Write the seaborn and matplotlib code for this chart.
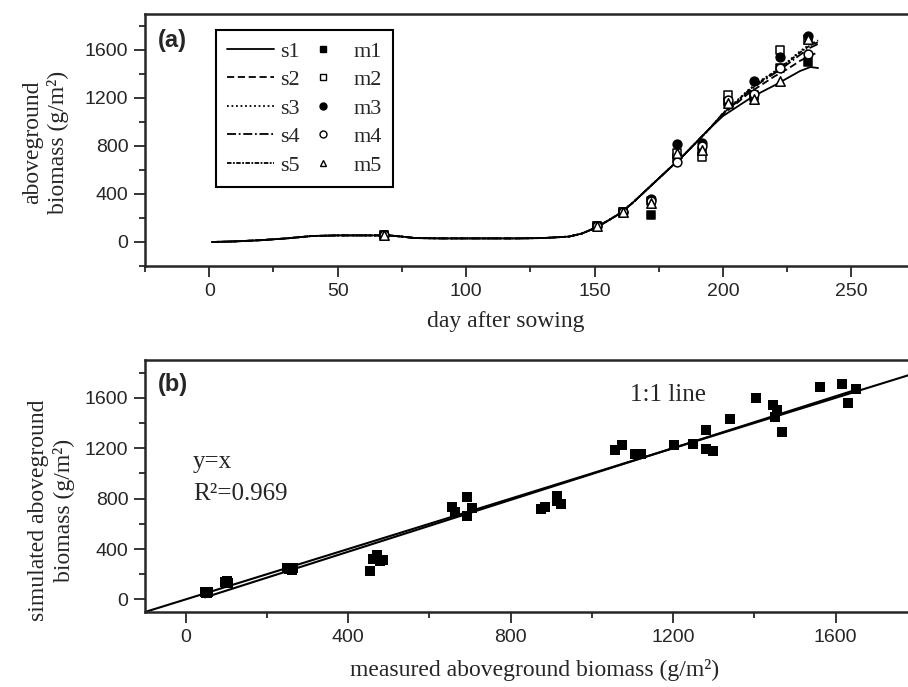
import numpy as np
import pandas as pd
import matplotlib
matplotlib.use("Agg")
import matplotlib.pyplot as plt
import seaborn as sns
from matplotlib.ticker import MultipleLocator
from matplotlib.lines import Line2D

# simulated aboveground biomass (g/m2), runs s1..s5
sim_day = [1, 10, 20, 30, 40, 50, 60, 70, 75, 80, 90, 100, 110, 120, 130, 140, 145,
           150, 155, 160, 165, 170, 175, 180, 185, 190, 195,
           200, 205, 210, 215, 220, 225, 230, 234, 237]
early = [0, 5, 15, 30, 50, 55, 55, 55, 45, 33, 30, 30, 30, 30, 33, 45, 70,
         115, 175, 240, 330, 430, 530, 630, 730, 840, 950]
s1 = early + [1050, 1120, 1190, 1250, 1305, 1365, 1425, 1458, 1450]
s2 = early + [1065, 1150, 1240, 1310, 1380, 1440, 1510, 1555, 1580]
s3 = early + [1075, 1170, 1270, 1350, 1420, 1500, 1590, 1650, 1680]
s4 = early + [1070, 1160, 1255, 1335, 1405, 1480, 1560, 1620, 1650]
s5 = early + [1072, 1165, 1265, 1345, 1415, 1495, 1580, 1640, 1665]

# measured aboveground biomass, sets m1..m5
meas_day = [68, 151, 161, 172, 182, 192, 202, 212, 222, 233]
m1 = [60, 130, 250, 222, 700, 760, 1170, 1210, 1450, 1500]
m2 = [60, 135, 250, 340, 740, 711, 1225, 1225, 1600, 1690]
m3 = [60, 130, 250, 360, 815, 822, 1160, 1342, 1544, 1717]
m4 = [60, 130, 250, 345, 664, 800, 1180, 1230, 1447, 1564]
m5 = [60, 130, 250, 322, 739, 767, 1160, 1192, 1344, 1692]

# panel (b): measured vs simulated
meas_b = [48, 50, 52, 55, 50, 98, 100, 103, 105, 102, 250, 255, 258, 262, 265,
          455, 462, 472, 478, 485, 655, 663, 692, 693, 704,
          874, 884, 913, 915, 925, 1058, 1073, 1106, 1120,
          1202, 1248, 1281, 1282, 1297, 1340, 1405, 1445, 1455, 1451, 1467,
          1561, 1615, 1649, 1631]
sim_b = [55, 60, 50, 62, 48, 140, 130, 145, 128, 135, 250, 245, 240, 235, 250,
         225, 320, 350, 305, 315, 730, 690, 810, 660, 725,
         717, 730, 818, 783, 757, 1182, 1222, 1156, 1150,
         1222, 1235, 1341, 1195, 1177, 1429, 1602, 1541, 1501, 1448, 1328,
         1687, 1708, 1673, 1559]

sim_runs = {"s1": s1, "s2": s2, "s3": s3, "s4": s4, "s5": s5}
meas_sets = {"m1": m1, "m2": m2, "m3": m3, "m4": m4, "m5": m5}

sns.set_style("ticks")
plt.rcParams["font.family"] = ["Liberation Sans", "DejaVu Sans"]
serif = ["Liberation Serif", "DejaVu Serif"]

line_dash = {"s1": "", "s2": (4, 2), "s3": (1, 1.5), "s4": (5, 1.5, 1, 1.5), "s5": (2.5, 0.8, 1, 0.8)}
line_style = {"s1": "-", "s2": (0, (4, 2)), "s3": (0, (1, 1.5)),
              "s4": (0, (5, 1.5, 1, 1.5)), "s5": (0, (2.5, 0.8, 1, 0.8))}
mark = {"m1": ("s", "black"), "m2": ("s", "white"), "m3": ("o", "black"),
        "m4": ("o", "white"), "m5": ("^", "white")}

sim_df = pd.DataFrame([(d, v, k) for k, vals in sim_runs.items() for d, v in zip(sim_day, vals)],
                      columns=["day", "biomass", "run"])

fig = plt.figure(figsize=(9.08, 6.87), dpi=100)
W, H = 908, 687
ax1 = fig.add_axes([145 / W, 1 - 266 / H, 763 / W, 252 / H])
ax2 = fig.add_axes([145 / W, 1 - 612 / H, 763 / W, 252 / H])

# panel (a)
sns.lineplot(data=sim_df, x="day", y="biomass", style="run", dashes=line_dash,
             color="black", lw=1.3, legend=False, estimator=None, ax=ax1)
for k, vals in meas_sets.items():
    mk, fc = mark[k]
    sns.scatterplot(x=meas_day, y=vals, marker=mk, color=fc, edgecolor="black",
                    s=40 if mk != "^" else 46, linewidth=1.1, zorder=5, ax=ax1)

ax1.set_xlim(-25, 272)
ax1.set_ylim(-200, 1900)
ax1.xaxis.set_major_locator(MultipleLocator(50))
ax1.xaxis.set_minor_locator(MultipleLocator(25))
ax1.yaxis.set_major_locator(MultipleLocator(400))
ax1.yaxis.set_minor_locator(MultipleLocator(200))
ax1.set_xlabel("day after sowing", family=serif, fontsize=17)
ax1.set_ylabel("aboveground\nbiomass (g/m²)", family=serif, fontsize=17)
ax1.xaxis.set_label_coords(0.473, -0.18)
ax1.yaxis.set_label_coords(-0.10, 0.49)
ax1.text(0.017, 0.94, "(a)", transform=ax1.transAxes, fontsize=17,
         fontweight="bold", ha="left", va="top")

handles = [Line2D([], [], color="black", lw=1.3, ls=line_style[k]) for k in sim_runs]
handles += [Line2D([], [], ls="none", marker=mark[k][0], markerfacecolor=mark[k][1],
                   markeredgecolor="black", markersize=5) for k in meas_sets]
labels = list(sim_runs) + list(meas_sets)
leg = ax1.legend(handles, labels, ncol=2, loc="upper left", bbox_to_anchor=(0.093, 0.937),
                 borderaxespad=0, frameon=True, fancybox=False, framealpha=1,
                 edgecolor="black", prop={"family": serif, "size": 16},
                 handlelength=2.1, handletextpad=0.3, columnspacing=0.0,
                 labelspacing=0.36, borderpad=0.5)
leg.get_frame().set_linewidth(1.5)

# panel (b)
sns.scatterplot(x=meas_b, y=sim_b, marker="s", color="black", s=42, linewidth=0,
                zorder=5, ax=ax2)
ax2.axline((0, 0), slope=1, color="black", lw=1.5)
slope, intercept = np.polyfit(meas_b, sim_b, 1)
fit_x = np.array([min(meas_b), max(meas_b)])
sns.lineplot(x=fit_x, y=slope * fit_x + intercept, color="black", lw=1.5, ax=ax2)

ax2.set_xlim(-100, 1778)
ax2.set_ylim(-100, 1900)
ax2.xaxis.set_major_locator(MultipleLocator(400))
ax2.xaxis.set_minor_locator(MultipleLocator(200))
ax2.yaxis.set_major_locator(MultipleLocator(400))
ax2.yaxis.set_minor_locator(MultipleLocator(200))
ax2.set_xlabel("measured aboveground biomass (g/m²)", family=serif, fontsize=17)
ax2.set_ylabel("simulated aboveground\nbiomass (g/m²)", family=serif, fontsize=17)
ax2.xaxis.set_label_coords(0.51, -0.185)
ax2.yaxis.set_label_coords(-0.092, 0.405)
ax2.text(0.017, 0.95, "(b)", transform=ax2.transAxes, fontsize=17,
         fontweight="bold", ha="left", va="top")
ax2.text(18, 1094, "y=x", family=serif, fontsize=18, va="center")
ax2.text(18, 840, "R²=0.969", family=serif, fontsize=18, va="center")
ax2.text(1094, 1620, "1:1 line", family=serif, fontsize=18, va="center")

for ax in (ax1, ax2):
    ax.spines["right"].set_visible(False)
    for sp in ("left", "bottom", "top"):
        ax.spines[sp].set_linewidth(1.8)
    ax.tick_params(which="major", direction="out", length=8, width=1.3, labelsize=14, pad=4)
    ax.tick_params(which="minor", direction="out", length=4.5, width=1.3)
    ax.tick_params(top=False, right=False)

fig.savefig("out.png", dpi=100)
